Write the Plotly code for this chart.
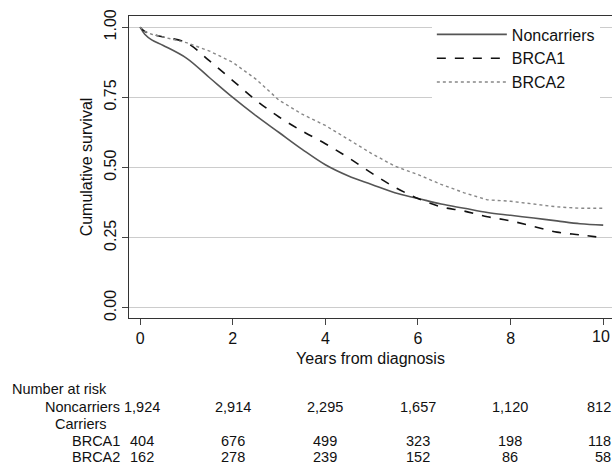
import plotly.graph_objects as go

years = [0,0.1,0.25,0.5,1,1.5,2,2.5,3,3.5,4,4.5,5,5.5,6,6.5,7,7.5,8,8.5,9,9.5,10]
noncarriers = [1.0,0.975,0.955,0.935,0.89,0.82,0.75,0.685,0.625,0.565,0.51,0.47,0.44,0.41,0.39,0.37,0.355,0.34,0.33,0.32,0.31,0.30,0.295]
brca1 = [1.0,0.985,0.975,0.965,0.945,0.88,0.81,0.74,0.68,0.63,0.585,0.535,0.48,0.43,0.39,0.36,0.345,0.325,0.31,0.29,0.27,0.26,0.25]
brca2 = [1.0,0.985,0.975,0.965,0.945,0.915,0.875,0.815,0.74,0.69,0.65,0.60,0.55,0.505,0.475,0.44,0.41,0.385,0.38,0.37,0.36,0.355,0.355]

risk_years = [0,2,4,6,8,10]
risk_non = ["1,924","2,914","2,295","1,657","1,120","812"]
risk_b1 = ["404","676","499","323","198","118"]
risk_b2 = ["162","278","239","152","86","58"]

fig = go.Figure()
fig.add_trace(go.Scatter(x=years, y=noncarriers, mode="lines", name="Noncarriers", line_shape="spline",
                         line=dict(color="#555555", width=1.6)))
fig.add_trace(go.Scatter(x=years, y=brca1, mode="lines", name="BRCA1", line_shape="spline",
                         line=dict(color="#111111", width=1.6, dash="dash")))
fig.add_trace(go.Scatter(x=years, y=brca2, mode="lines", name="BRCA2",
                         line=dict(color="#888888", width=1.4, dash="dot")))

F = dict(family="Liberation Sans, Arial", size=16, color="#111")
FT = dict(family="Liberation Sans, Arial", size=14.5, color="#111")
L, W = 129, 483
def px2x(px):
    return (px - L) / W
def py2y(py):
    return (318 - py) / 302.0
def yr2px(yr):
    return 140 + yr * 46.3

rows = {"nar": 389, "non": 407, "car": 424, "b1": 441, "b2": 457}
ann = []
ann.append(dict(x=px2x(11), y=py2y(rows["nar"]), text="Number at risk", xanchor="left"))
ann.append(dict(x=px2x(121), y=py2y(rows["non"]), text="Noncarriers", xanchor="right"))
ann.append(dict(x=px2x(108), y=py2y(rows["car"]), text="Carriers", xanchor="right"))
ann.append(dict(x=px2x(121), y=py2y(rows["b1"]), text="BRCA1", xanchor="right"))
ann.append(dict(x=px2x(121), y=py2y(rows["b2"]), text="BRCA2", xanchor="right"))
for i, yr in enumerate(risk_years):
    if yr == 0:
        ann.append(dict(x=px2x(123), y=py2y(rows["non"]), text=risk_non[i], xanchor="left"))
        ann.append(dict(x=px2x(129), y=py2y(rows["b1"]), text=risk_b1[i], xanchor="left"))
        ann.append(dict(x=px2x(129), y=py2y(rows["b2"]), text=risk_b2[i], xanchor="left"))
    elif yr == 10:
        for k, v in (("non", risk_non[i]), ("b1", risk_b1[i]), ("b2", risk_b2[i])):
            ann.append(dict(x=1.0, y=py2y(rows[k]), text=v, xanchor="right"))
    else:
        xp = px2x(yr2px(yr))
        ann.append(dict(x=xp, y=py2y(rows["non"]), text=risk_non[i], xanchor="center"))
        ann.append(dict(x=xp, y=py2y(rows["b1"]), text=risk_b1[i], xanchor="center"))
        ann.append(dict(x=xp, y=py2y(rows["b2"]), text=risk_b2[i], xanchor="center"))
for a in ann:
    a.update(xref="paper", yref="paper", showarrow=False, font=FT, yanchor="middle", borderpad=0)
ann.append(dict(x=1.0, y=py2y(336), text="10", xanchor="right", xref="paper", yref="paper",
                showarrow=False, font=F, yanchor="middle"))

fig.update_layout(
    width=612, height=465, margin=dict(l=129, r=0, t=16, b=147),
    plot_bgcolor="white", paper_bgcolor="white",
    font=F, annotations=ann,
    legend=dict(x=0.627, y=0.995, xanchor="left", yanchor="top", bgcolor="white",
                font=dict(size=16), itemwidth=70, tracegroupgap=0),
    xaxis=dict(range=[-0.24, 10.19], tickvals=[0,2,4,6,8,10], ticktext=["0","2","4","6","8",""],
               showgrid=False, zeroline=False, automargin=False,
               showline=True, linecolor="#333", mirror=True, ticks="outside", ticklen=6,
               tickfont=dict(size=16), title=dict(text="Years from diagnosis", font=dict(size=16), standoff=6)),
    yaxis=dict(range=[-0.036, 1.04], tickvals=[0,0.25,0.5,0.75,1], ticktext=["0.00","0.25","0.50","0.75","1.00"],
               tickangle=-90, showgrid=True, gridcolor="#cccccc", zeroline=False, automargin=False,
               showline=True, linecolor="#333", mirror=True, ticks="outside", ticklen=6,
               tickfont=dict(size=16), title=dict(text="Cumulative survival", font=dict(size=16), standoff=4)),
)
fig.write_html("out.html", config={"displayModeBar": False},
               post_script="document.body.style.margin='0';document.body.style.overflow='hidden';")
